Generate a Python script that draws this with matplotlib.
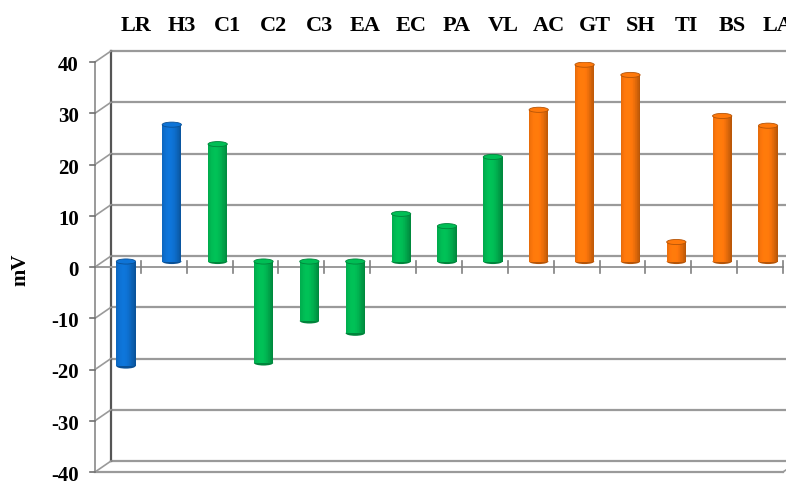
import numpy as np
import matplotlib.pyplot as plt
from matplotlib.patches import Rectangle, Ellipse
from matplotlib.transforms import offset_copy

categories = ["LR", "H3", "C1", "C2", "C3", "EA", "EC", "PA", "VL",
              "AC", "GT", "SH", "TI", "BS", "LA"]
values = [-20.4, 26.7, 22.9, -19.8, -11.6, -14.0, 9.3, 6.9, 20.4,
          29.6, 38.4, 36.4, 3.8, 28.4, 26.5]
groups = ["b", "b", "g", "g", "g", "g", "g", "g", "g",
          "o", "o", "o", "o", "o", "o"]
yticks = [-40, -30, -20, -10, 0, 10, 20, 30, 40]

palette = {"b": np.array([0.05, 0.42, 0.78]),
           "g": np.array([0.0, 0.69, 0.31]),
           "o": np.array([0.94, 0.44, 0.04])}
grid_c = "#9a9a9a"
font = dict(family="Liberation Serif", fontweight="bold")

W, H = 786, 483
fig = plt.figure(figsize=(W / 100, H / 100), dpi=100)
ax = fig.add_axes([95 / W, 1 - 472 / H, 688 / W, 410 / H])
ax.set_xlim(0, len(categories))
ax.set_ylim(-40, 40)
ax.axis("off")

# depth offsets for the back wall and the bar row
back = offset_copy(ax.transData, fig, x=16, y=11, units="dots")
mid = offset_copy(ax.transData, fig, x=8, y=5.5, units="dots")
n = len(categories)

# back wall gridlines + side wall connectors + front value ticks
for v in yticks:
    ax.plot([0, n], [v, v], color=grid_c, lw=1.6, transform=back, clip_on=False, zorder=1)
    x0, y0 = ax.transData.transform((0, v))
    x1, y1 = back.transform((0, v))
    fig.add_artist(plt.Line2D([x0 / W, x1 / W], [y0 / H, y1 / H], color=grid_c, lw=1.2))
    fig.add_artist(plt.Line2D([(x0 - 5) / W, x0 / W], [y0 / H, y0 / H], color="#707070", lw=1.2))
    fig.text((x0 - 16) / W, (y0 - 4) / H, f"{v}", ha="right", va="center", fontsize=15, **font)

ax.plot([0, 0], [-40, 40], color="#555555", lw=1.6, transform=back, clip_on=False, zorder=1)
ax.plot([0, 0], [-40, 40], color=grid_c, lw=1.4, clip_on=False, zorder=1)
ax.plot([0, n], [-40, -40], color=grid_c, lw=1.6, clip_on=False, zorder=1)
xa, ya = ax.transData.transform((n, -40))
xb, yb = back.transform((n, -40))
fig.add_artist(plt.Line2D([xa / W, xb / W], [ya / H, yb / H], color=grid_c, lw=1.2))

# front category axis at zero
ax.plot([0, n], [0, 0], color=grid_c, lw=1.4, clip_on=False, zorder=2)
for i in range(1, n + 1):
    x0, y0 = ax.transData.transform((i, 0))
    fig.add_artist(plt.Line2D([x0 / W, x0 / W], [(y0 - 6) / H, (y0 + 6) / H],
                              color="#808080", lw=1.2, zorder=2))


def cylinder(xc, v, base, w=0.42, cap=1.0, strips=28):
    lo, hi = min(0, v), max(0, v)
    dark = base * 0.75
    ax.add_patch(Ellipse((xc, lo), w, cap, facecolor=dark, lw=0, transform=mid, zorder=3))
    for k in range(strips):
        t = (k + 0.5) / strips * 2 - 1
        shade = 0.84 + 0.26 * np.cos((t + 0.25) * np.pi / 2.1)
        c = np.clip(base * shade, 0, 1)
        ax.add_patch(Rectangle((xc - w / 2 + k * w / strips, lo), w / strips * 1.05, hi - lo,
                               facecolor=c, lw=0, transform=mid, zorder=3))
    ax.add_patch(Ellipse((xc, hi), w, cap, facecolor=np.clip(base * 1.08, 0, 1),
                         edgecolor=dark, lw=0.6, transform=mid, zorder=4))


for i, (v, g) in enumerate(zip(values, groups)):
    cylinder(i + 0.5, v, palette[g])

# category labels along the top
lab = offset_copy(ax.transData, fig, x=18, y=36, units="dots")
for i, c in enumerate(categories):
    ax.text(i + 0.5, 40, c, transform=lab, ha="center", va="center", fontsize=16, **font)

fig.text(20 / W, 1 - 270 / H, "mV", rotation=90, ha="center", va="center", fontsize=15, **font)

fig.savefig("out.png", dpi=100, facecolor="white")
